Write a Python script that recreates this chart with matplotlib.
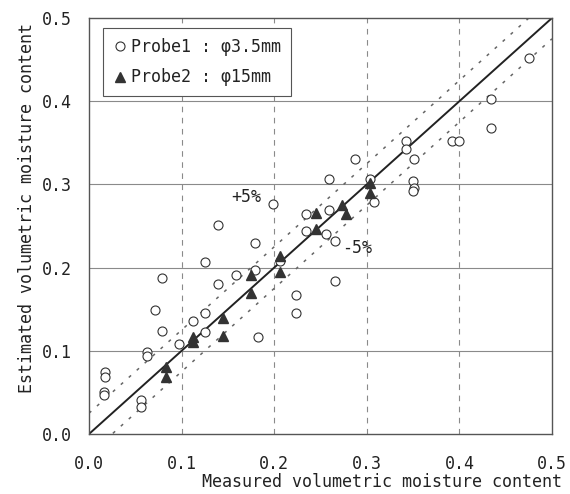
import numpy as np
import matplotlib
matplotlib.use("Agg")
import matplotlib.pyplot as plt
from matplotlib.lines import Line2D

plt.rcParams['font.family'] = ['DejaVu Sans Mono', 'DejaVu Sans']

# Probe 1 (3.5 mm): measured vs estimated volumetric moisture content
probe1_measured = [0.016, 0.016, 0.017, 0.017, 0.056, 0.056, 0.063, 0.063,
                   0.071, 0.079, 0.079, 0.097, 0.112, 0.125, 0.125, 0.125,
                   0.139, 0.139, 0.159, 0.179, 0.179, 0.182, 0.199, 0.206,
                   0.224, 0.224, 0.234, 0.234, 0.256, 0.259, 0.259, 0.266,
                   0.266, 0.287, 0.303, 0.308, 0.342, 0.342, 0.351, 0.350,
                   0.351, 0.350, 0.392, 0.400, 0.434, 0.434, 0.475]
probe1_estimated = [0.050, 0.047, 0.074, 0.068, 0.041, 0.033, 0.098, 0.094,
                    0.149, 0.124, 0.188, 0.108, 0.136, 0.146, 0.122, 0.207,
                    0.180, 0.251, 0.191, 0.197, 0.230, 0.116, 0.276, 0.208,
                    0.167, 0.146, 0.265, 0.244, 0.240, 0.269, 0.307, 0.232,
                    0.184, 0.330, 0.307, 0.279, 0.352, 0.342, 0.330, 0.304,
                    0.296, 0.292, 0.352, 0.352, 0.403, 0.368, 0.452]

# Probe 2 (15 mm)
probe2_measured = [0.083, 0.083, 0.112, 0.112, 0.145, 0.145, 0.175, 0.175,
                   0.206, 0.206, 0.245, 0.245, 0.273, 0.277, 0.303, 0.303]
probe2_estimated = [0.080, 0.068, 0.117, 0.111, 0.140, 0.118, 0.191, 0.170,
                    0.214, 0.195, 0.266, 0.246, 0.275, 0.265, 0.302, 0.290]

tick_values = [0.0, 0.1, 0.2, 0.3, 0.4, 0.5]
tick_labels = ["0.0", "0.1", "0.2", "0.3", "0.4", "0.5"]
band = 0.025  # offset of the dotted error lines

fig = plt.figure(figsize=(5.7, 4.94), dpi=100)
ax = fig.add_axes([89 / 570, 1 - 434 / 494, 463 / 570, 416 / 494])

# grid: dashed verticals, solid horizontals
for v in tick_values[1:-1]:
    ax.axvline(v, color='#8a8a8a', lw=0.8, ls=(0, (5, 5)), zorder=1)
    ax.axhline(v, color='#8a8a8a', lw=0.8, zorder=1)

line_x = np.array([0.0, 0.5])
ax.plot(line_x, line_x, color='#222222', lw=1.4, zorder=2)
ax.plot(line_x, line_x + band, color='#666666', lw=1.1, ls=(0, (2, 5)), zorder=2)
ax.plot(line_x, line_x - band, color='#666666', lw=1.1, ls=(0, (2, 5)), zorder=2)

ax.plot(probe1_measured, probe1_estimated, ls='none', marker='o', ms=6.5,
        mfc='white', mec='#333333', mew=0.8, zorder=3)
ax.plot(probe2_measured, probe2_estimated, ls='none', marker='^', ms=7,
        mfc='#333333', mec='#333333', zorder=4)

ax.text(0.170, 0.285, "+5%", fontsize=12, color='#222222', ha='center', va='center')
ax.text(0.290, 0.223, "-5%", fontsize=12, color='#222222', ha='center', va='center')

ax.set_xlim(0, 0.5)
ax.set_ylim(0, 0.5)
ax.set_xticks(tick_values)
ax.set_xticklabels(tick_labels)
ax.set_yticks(tick_values)
ax.set_yticklabels(tick_labels)
ax.tick_params(axis='both', length=0, labelsize=12, labelcolor='#222222')
ax.tick_params(axis='x', pad=15)
ax.tick_params(axis='y', pad=12)
for s in ax.spines.values():
    s.set_color('#555555')
    s.set_linewidth(1.0)

handles = [
    Line2D([], [], ls='none', marker='o', ms=6.5, mfc='white', mec='#333333', mew=0.8),
    Line2D([], [], ls='none', marker='^', ms=7, mfc='#333333', mec='#333333'),
]
leg = ax.legend(handles, ["Probe1 : φ3.5mm", "Probe2 : φ15mm"],
                loc='upper left', bbox_to_anchor=(14 / 463, 1 - 10 / 416),
                fontsize=12, frameon=True, fancybox=False, framealpha=1,
                edgecolor='#555555', handlelength=0.8, handletextpad=0.3,
                labelspacing=0.75, borderpad=0.6, borderaxespad=0)
leg.get_frame().set_linewidth(0.8)
for t in leg.get_texts():
    t.set_color('#222222')

fig.text(562 / 570, 1 - 482 / 494, "Measured volumetric moisture content",
         fontsize=12, color='#222222', ha='right', va='center')
fig.text(27 / 570, 1 - 208 / 494, "Estimated volumetric moisture content",
         fontsize=12, color='#222222', ha='center', va='center', rotation=90)

fig.savefig("out.png", dpi=100)
